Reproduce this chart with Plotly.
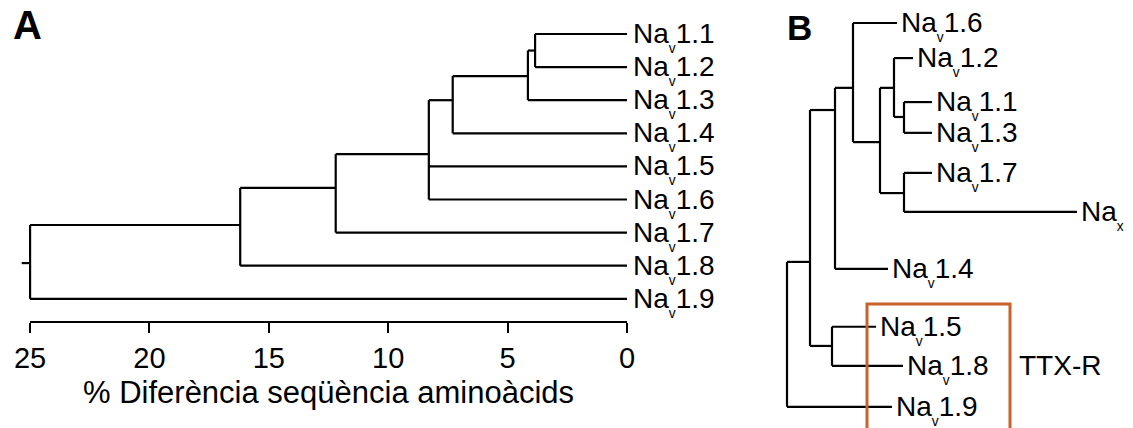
import plotly.graph_objects as go

W, H = 1133, 428
FONT = "Liberation Sans, Arial, sans-serif"
LINE = "#000000"
BOX = "#C9612D"

# ---- Panel A: distance tree (% amino-acid sequence difference) ----
a_leaves = ["1.1", "1.2", "1.3", "1.4", "1.5", "1.6", "1.7", "1.8", "1.9"]
a_leaf_rows = [1, 2, 3, 4, 5, 6, 7, 8, 9]
a_node_names = ["n12", "n123", "n1234", "n1_6", "n1_7", "n1_8", "root"]
a_node_heights = [3.85, 4.15, 7.3, 8.3, 12.2, 16.2, 25.0]
a_node_rows = [1.5, 2.27, 3.0, 4.63, 5.65, 6.77, 7.92]
a_node_children = [
    ["1.1", "1.2"],
    ["n12", "1.3"],
    ["n123", "1.4"],
    ["n1234", "1.5", "1.6"],
    ["n1_6", "1.7"],
    ["n1_7", "1.8"],
    ["n1_8", "1.9"],
]
a_root_stub = 25.35
a_ticks = [25, 20, 15, 10, 5, 0]
a_xtitle = "% Diferència seqüència aminoàcids"

# ---- Panel B: phylogram ----
b_leaves = ["1.6", "1.2", "1.1", "1.3", "1.7", "x", "1.4", "1.5", "1.8", "1.9"]
b_leaf_depth = [1.10, 1.26, 1.45, 1.45, 1.45, 2.90, 1.01, 0.89, 1.16, 1.05]
b_leaf_rows = [1.0, 2.06, 3.39, 4.32, 5.53, 6.71, 8.43, 10.18, 11.36, 12.60]
b_node_names = ["R", "N1", "N2", "N3", "N4", "N6", "N8", "N7", "N5"]
b_node_depth = [0.0, 0.23, 0.48, 0.66, 0.93, 1.07, 1.17, 1.17, 0.45]
b_node_rows = [10.4, 8.22, 3.63, 2.96, 4.60, 2.96, 3.84, 6.14, 10.76]
b_node_children = [
    ["N1", "1.9"],
    ["N2", "N5"],
    ["N3", "1.4"],
    ["1.6", "N4"],
    ["N6", "N7"],
    ["1.2", "N8"],
    ["1.1", "1.3"],
    ["1.7", "x"],
    ["1.5", "1.8"],
]
b_ttx_box = dict(x0=0.80, x1=2.23, y0=9.49, y1=13.8)
b_ttx_label = "TTX-R"
b_ttx_pos = (2.30, 11.36)


def tree_segments(leaves, leaf_x, leaf_y, names, node_x, node_y, children):
    pos = {n: (x, y) for n, x, y in zip(leaves, leaf_x, leaf_y)}
    pos.update({n: (x, y) for n, x, y in zip(names, node_x, node_y)})
    xs, ys = [], []
    for n, kids in zip(names, children):
        nx, _ = pos[n]
        rows = [pos[k][1] for k in kids]
        xs += [nx, nx, None]
        ys += [min(rows), max(rows), None]
        for k in kids:
            kx, ky = pos[k]
            xs += [nx, kx, None]
            ys += [ky, ky, None]
    return xs, ys


def label(name):
    if name == "x":
        return "Na<sub><sub>x</sub></sub>"
    return "Na<sub><sub>v</sub></sub>" + name


fig = go.Figure()

ax, ay = tree_segments(a_leaves, [0] * len(a_leaves), a_leaf_rows,
                       a_node_names, a_node_heights, a_node_rows, a_node_children)
root_row = a_node_rows[a_node_names.index("root")]
ax += [a_node_heights[-1], a_root_stub, None]
ay += [root_row, root_row, None]
fig.add_trace(go.Scatter(x=ax, y=ay, mode="lines", xaxis="x", yaxis="y",
                         line=dict(color=LINE, width=2.2), hoverinfo="skip",
                         showlegend=False))

bx, by = tree_segments(b_leaves, b_leaf_depth, b_leaf_rows,
                       b_node_names, b_node_depth, b_node_rows, b_node_children)
fig.add_trace(go.Scatter(x=bx, y=by, mode="lines", xaxis="x2", yaxis="y2",
                         line=dict(color=LINE, width=2.2), hoverinfo="skip",
                         showlegend=False))

ann = []
for n, r in zip(a_leaves, a_leaf_rows):
    ann.append(dict(x=0, y=r, xref="x", yref="y", text=label(n), showarrow=False,
                    xanchor="left", yanchor="middle", xshift=4, yshift=-3,
                    font=dict(family=FONT, size=28, color="#000")))
for n, d, r in zip(b_leaves, b_leaf_depth, b_leaf_rows):
    ann.append(dict(x=d, y=r, xref="x2", yref="y2", text=label(n), showarrow=False,
                    xanchor="left", yanchor="middle", xshift=2, yshift=-3,
                    font=dict(family=FONT, size=28, color="#000")))
ann.append(dict(x=b_ttx_pos[0], y=b_ttx_pos[1], xref="x2", yref="y2",
                text=b_ttx_label, showarrow=False, xanchor="left", yanchor="middle",
                font=dict(family=FONT, size=28, color="#000")))
ann.append(dict(x=(a_ticks[0] + a_ticks[-1]) / 2, y=1 - 392 / H, xref="x", yref="paper",
                text=a_xtitle, showarrow=False, xanchor="center", yanchor="middle",
                font=dict(family=FONT, size=31, color="#000")))
ann.append(dict(x=11 / W, y=1 - 1 / H, xref="paper", yref="paper", text="<b>A</b>",
                showarrow=False, xanchor="left", yanchor="top",
                font=dict(family=FONT, size=40, color="#000")))
ann.append(dict(x=785 / W, y=1 - 6 / H, xref="paper", yref="paper", text="<b>B</b>",
                showarrow=False, xanchor="left", yanchor="top",
                font=dict(family=FONT, size=35, color="#000")))

a_ybottom = 1 - 322 / H
shapes = [
    dict(type="line", xref="x", yref="paper", x0=a_ticks[0], x1=a_ticks[-1],
         y0=a_ybottom, y1=a_ybottom, line=dict(color=LINE, width=2.2)),
    dict(type="rect", xref="x2", yref="y2", line=dict(color=BOX, width=3),
         fillcolor="rgba(0,0,0,0)", **b_ttx_box),
]

fig.update_layout(
    width=W, height=H, margin=dict(l=0, r=0, t=0, b=0),
    paper_bgcolor="white", plot_bgcolor="white",
    font=dict(family=FONT, color="#000"),
    annotations=ann, shapes=shapes,
    xaxis=dict(domain=[0, 700 / W], range=[26.26, -3.057], tickvals=a_ticks,
               ticks="outside", ticklen=10, tickwidth=2.2, tickcolor=LINE,
               showline=False, showgrid=False, zeroline=False, anchor="y",
               tickfont=dict(family=FONT, size=29, color="#000")),
    yaxis=dict(domain=[a_ybottom, 1], range=[9.70, -0.027], visible=False),
    xaxis2=dict(domain=[770 / W, 1], range=[-0.17, 3.46], visible=False,
                anchor="y2"),
    yaxis2=dict(domain=[0, 1], range=[13.24, 0.305], visible=False, anchor="x2"),
)

fig.write_html("out.html")
